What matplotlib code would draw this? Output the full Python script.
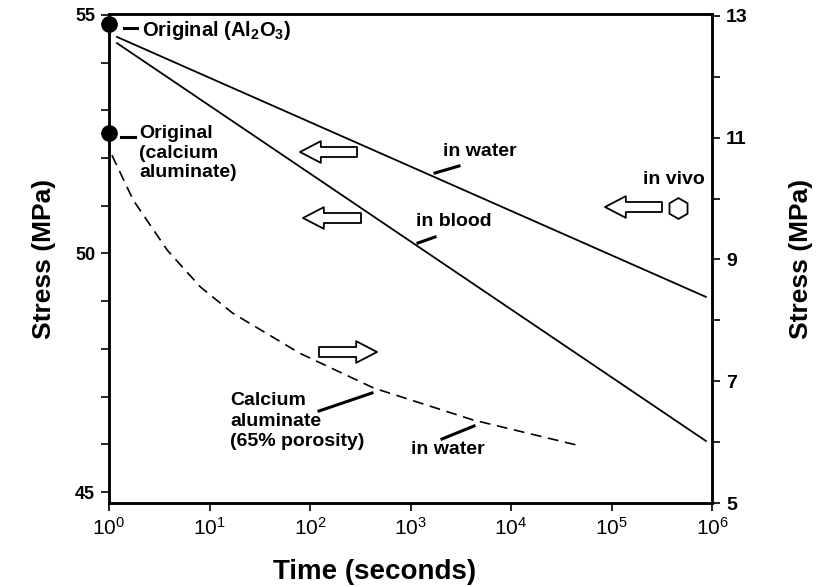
import matplotlib
matplotlib.use("Agg")
import matplotlib.pyplot as plt
import matplotlib.font_manager as fm
import numpy as np

# ---------------- data ----------------
time_lines = [1.2, 8.7e5]
stress_water = [54.54, 49.09]
stress_blood = [54.41, 46.07]

time_ca = [1.07, 1.74, 3.8, 8.1, 17, 79, 430, 4200, 46000]
stress_ca = [52.06, 51.12, 50.07, 49.30, 48.75, 47.91, 47.18, 46.51, 45.98]

time_orig = [1, 1]
stress_orig = [54.81, 52.53]

xtick_vals = [1e0, 1e1, 1e2, 1e3, 1e4, 1e5, 1e6]
xtick_labels = [r"$\mathregular{10^{%d}}$" % i for i in range(7)]
left_ticks = list(range(45, 56))
left_labels = {45: "45", 50: "50", 55: "55"}
right_ticks = list(range(5, 14))
right_labels = {5: "5", 7: "7", 9: "9", 11: "11", 13: "13"}

# ---------------- fonts ----------------
names = {f.name for f in fm.fontManager.ttflist}
base = "Liberation Sans" if "Liberation Sans" in names else "DejaVu Sans"
narrow = "Liberation Sans Narrow" if "Liberation Sans Narrow" in names else base
plt.rcParams["font.family"] = [base, "DejaVu Sans"]
plt.rcParams["mathtext.fontset"] = "custom"
plt.rcParams["mathtext.rm"] = narrow
plt.rcParams["mathtext.bf"] = base + ":bold"

W, H = 818, 587
fig = plt.figure(figsize=(W / 100, H / 100), dpi=100)
L, R, T, B = 109, 712, 14, 503
ax = fig.add_axes([L / W, (H - B) / H, (R - L) / W, (B - T) / H])

def px(x, y):
    return ((x - L) / (R - L), (B - y) / (B - T))

ax.set_xscale("log")
ax.set_xlim(1, 1e6)
ax.set_ylim(44.77, 55.02)

# lines
ax.plot(time_lines, stress_water, color="black", lw=1.3)
ax.plot(time_lines, stress_blood, color="black", lw=1.3)
ax.plot(time_ca, stress_ca, color="black", lw=1.2, dashes=(6.5, 4))
ax.plot(time_orig, stress_orig, "o", color="black", ms=11, clip_on=False, zorder=5)

# ticks
ax.set_xticks(xtick_vals)
ax.set_xticklabels(xtick_labels, fontsize=15)
ax.xaxis.set_minor_locator(matplotlib.ticker.NullLocator())
ax.set_yticks(left_ticks)
ax.set_yticklabels([left_labels.get(v, "") for v in left_ticks], fontsize=13, fontweight="bold")
ax.tick_params(axis="both", direction="out", length=6, width=1.2, pad=4)
ax.tick_params(axis="x", pad=4)

ax2 = ax.twinx()
ax2.set_ylim(5, 13.03)
ax2.set_yticks(right_ticks)
ax2.set_yticklabels([right_labels.get(v, "") for v in right_ticks], fontsize=14, fontweight="bold")
ax2.tick_params(axis="y", direction="out", length=6, width=1.2, pad=4)

for a in (ax, ax2):
    for s in a.spines.values():
        s.set_linewidth(1.8)

ax.set_ylabel("Stress (MPa)", fontsize=19, fontweight="bold", labelpad=14)
ax2.set_ylabel("Stress (MPa)", fontsize=19, fontweight="bold", labelpad=30)
ax.set_xlabel("Time (seconds)", fontsize=20, fontweight="bold",
              family=[narrow, "DejaVu Sans"])
ax.xaxis.set_label_coords((375 - L) / (R - L), (B - 572) / (B - T))
ax.xaxis.label.set_va("center")

# annotations
fs = 14
def txt(x, y, s, **kw):
    ax.text(*px(x, y), s, transform=ax.transAxes, fontsize=kw.pop("fontsize", fs),
            fontweight="bold", va="center", ha="left", **kw)

def seg(x1, y1, x2, y2, lw=2.2):
    p1, p2 = px(x1, y1), px(x2, y2)
    ax.plot([p1[0], p2[0]], [p1[1], p2[1]], color="black", lw=lw,
            transform=ax.transAxes, clip_on=False)

txt(142, 31, r"Original (Al$_\mathbf{2}$O$_\mathbf{3}$)", fontsize=14.5)
seg(124, 28, 137, 28)
txt(139, 153, "Original\n(calcium\naluminate)", linespacing=1.22)
seg(121, 137, 135, 137)
txt(443, 151, "in water")
seg(435, 173, 459, 166)
txt(416, 222, "in blood")
seg(418, 243, 435, 237)
txt(643, 179, "in vivo")
txt(230, 421, "Calcium\naluminate\n(65% porosity)", linespacing=1.25)
seg(319, 411, 372, 393)
txt(411, 450, "in water")
seg(442, 439, 474, 426)

# hollow arrows
def arrow(x_tail, x_tip, y):
    ax.annotate("", xy=px(x_tip, y), xytext=px(x_tail, y),
                xycoords="axes fraction", textcoords="axes fraction",
                arrowprops=dict(arrowstyle="simple,head_length=0.75,head_width=0.78,tail_width=0.36",
                                mutation_scale=20, fc="white", ec="black", lw=1.3,
                                shrinkA=0, shrinkB=0))

arrow(357, 300, 152)
arrow(361, 303, 218)
arrow(319, 377, 352)
arrow(662, 605, 207)
hx, hy = px(678, 208)
ax.plot([hx], [hy], marker="h", ms=15, mfc="white", mec="black", mew=1.3,
        transform=ax.transAxes, clip_on=False)

fig.savefig("out.png", dpi=100)
